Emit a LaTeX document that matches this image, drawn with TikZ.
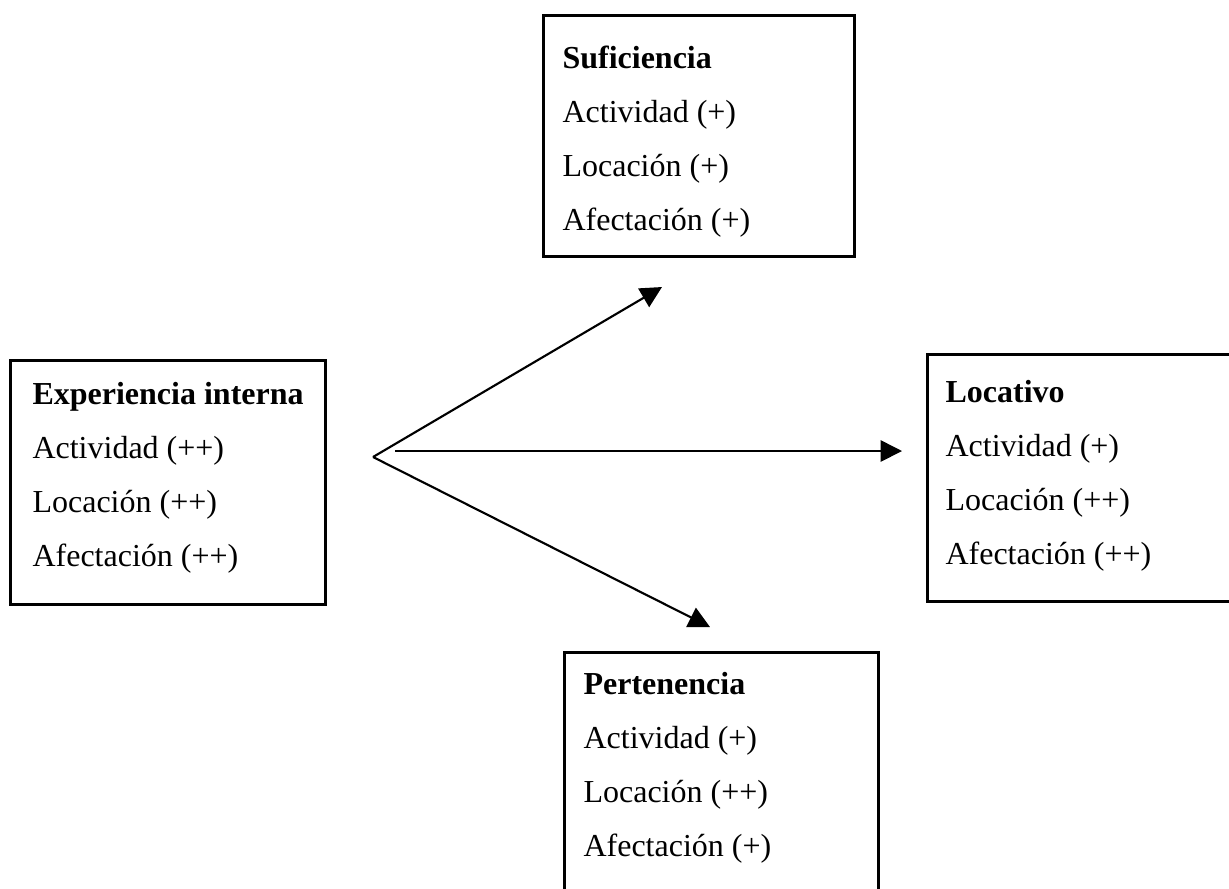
\documentclass[tikz,border=0pt]{standalone}
\usepackage{fontspec}
\setmainfont{Liberation Serif}
\usetikzlibrary{arrows.meta}
\newlength{\px}
\setlength{\px}{0.375pt}
\newcommand{\mas}{(+)}
\newcommand{\masmas}{(++)}

\begin{document}
\begin{tikzpicture}[x=\px,y=-\px,
  caja/.style={draw,line width=1pt,anchor=north west,inner sep=0pt},
  rasgos/.style={anchor=north west,inner sep=0pt,align=left,
    font=\fontsize{12}{20.25}\selectfont},
  flecha/.style={-{Triangle[length=8pt,width=8pt]},line width=0.8pt}]
\useasboundingbox (0,0) rectangle (1229,888);

% marcos
\node [caja,minimum width=311\px,minimum height=241\px] (suf) at (542,14) {};
\node [caja,minimum width=315\px,minimum height=244\px] (exp) at (9,359) {};
\node [caja,minimum width=310\px,minimum height=247\px] (loc) at (926,353) {};
\node [caja,minimum width=314\px,minimum height=250\px] (per) at (563,651) {};

% textos
\node [rasgos] (tsuf) at (562,45)
  {\textbf{Suficiencia}\\ Actividad \mas\\ Locación \mas\\ Afectación \mas};
\node [rasgos] (texp) at (32,382)
  {\textbf{Experiencia interna}\\ Actividad \masmas\\ Locación \masmas\\ Afectación \masmas};
\node [rasgos] (tloc) at (945,380)
  {\textbf{Locativo}\\ Actividad \mas\\ Locación \masmas\\ Afectación \masmas};
\node [rasgos] (tper) at (583,672)
  {\textbf{Pertenencia}\\ Actividad \mas\\ Locación \masmas\\ Afectación \mas};

% flechas
\coordinate (vertice) at (373,457);
\coordinate (inicio) at (395,451);
\coordinate (asuf) at (662,287);
\coordinate (aloc) at (902,451);
\coordinate (aper) at (710,627);

\draw [flecha] (vertice) -- (asuf);
\draw [flecha] (vertice) -- (aper);
\draw [flecha,line width=0.6pt] (inicio) -- (aloc);
\end{tikzpicture}
\end{document}
